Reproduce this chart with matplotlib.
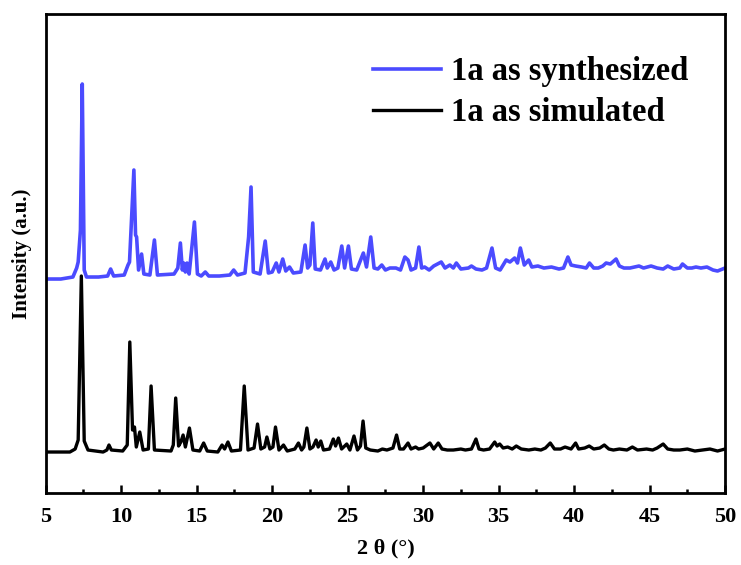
import numpy as np
import matplotlib
matplotlib.use("Agg")
import matplotlib.pyplot as plt
from matplotlib.ticker import MultipleLocator

plt.rcParams['font.family'] = ['Liberation Serif', 'DejaVu Serif']
plt.rcParams['font.weight'] = 'bold'

# PXRD patterns (2 theta in degrees, intensity in a.u., baseline ~0)
synth_2theta = [5.0, 6.0, 6.8, 7.05, 7.15, 7.3, 7.42, 7.55, 7.7, 8.5, 9.1, 9.3, 9.5, 10.2, 10.45,
                10.55, 10.75, 10.84, 10.95, 11.02, 11.15, 11.35, 11.5, 11.9, 12.2, 12.4, 13.5, 13.75,
                13.92, 14.05, 14.14, 14.25, 14.36, 14.5, 14.85, 15.05, 15.3, 15.57, 15.8, 16.5, 17.2,
                17.45, 17.7, 18.2, 18.44, 18.6, 18.75, 19.2, 19.54, 19.75, 20.0, 20.27, 20.45, 20.7,
                20.9, 21.15, 21.4, 21.9, 22.18, 22.35, 22.5, 22.69, 22.85, 23.2, 23.5, 23.65, 23.88,
                24.1, 24.35, 24.61, 24.8, 25.05, 25.25, 25.6, 26.04, 26.25, 26.53, 26.75, 27.0, 27.26,
                27.5, 27.8, 28.2, 28.5, 28.79, 29.0, 29.2, 29.5, 29.72, 29.9, 30.1, 30.4, 30.7, 31.2,
                31.45, 31.77, 32.0, 32.2, 32.5, 33.0, 33.2, 33.5, 33.9, 34.2, 34.56, 34.8, 35.1, 35.5,
                35.75, 36.06, 36.25, 36.44, 36.7, 36.99, 37.2, 37.6, 38.0, 38.5, 39.0, 39.3, 39.59,
                39.8, 40.1, 40.5, 40.8, 41.02, 41.3, 41.6, 41.9, 42.12, 42.4, 42.78, 43.0, 43.3, 43.7,
                44.0, 44.3, 44.6, 45.1, 45.5, 45.9, 46.2, 46.6, 47.0, 47.18, 47.5, 47.8, 48.07, 48.4,
                48.8, 49.2, 49.5, 50.0]
synth_int = [0, 0, 2, 11, 17, 49, 195, 9, 2, 2, 3, 10, 3, 4, 14,
             17, 79, 109, 44, 42, 9, 25, 5, 4, 39, 4, 5, 11,
             36, 9, 16, 7, 16, 5, 57, 5, 3, 7, 3, 3, 4,
             9, 4, 6, 42, 92, 7, 5, 38, 6, 7, 16, 7, 20,
             8, 12, 6, 7, 34, 11, 14, 56, 10, 9, 20, 11, 17,
             9, 11, 33, 11, 33, 10, 9, 26, 12, 42, 11, 10, 14,
             9, 11, 11, 9, 22, 19, 9, 11, 32, 11, 12, 9, 13, 17,
             11, 14, 11, 16, 10, 11, 13, 10, 9, 11, 31, 11, 9, 19,
             17, 21, 16, 31, 14, 19, 12, 13, 11, 12, 10, 11, 22,
             14, 13, 12, 11, 16, 11, 11, 13, 16, 15, 20, 13, 11, 11,
             12, 13, 11, 13, 11, 10, 13, 10, 11, 15, 11, 11, 12, 11,
             12, 9, 8, 11]

sim_2theta = [5.0, 6.6, 6.95, 7.15, 7.36, 7.55, 7.8, 8.8, 9.05, 9.19, 9.35, 10.1, 10.4, 10.57,
              10.75, 10.88, 11.0, 11.23, 11.45, 11.8, 11.98, 12.2, 13.3, 13.45, 13.61, 13.8, 13.95,
              14.1, 14.25, 14.52, 14.75, 15.2, 15.46, 15.7, 16.4, 16.68, 16.85, 17.07, 17.3, 17.9,
              18.15, 18.4, 18.8, 19.03, 19.25, 19.5, 19.65, 19.85, 20.05, 20.22, 20.45, 20.75, 21.0,
              21.5, 21.74, 21.95, 22.1, 22.3, 22.5, 22.7, 22.91, 23.05, 23.22, 23.4, 23.8, 24.05,
              24.2, 24.39, 24.6, 24.94, 25.15, 25.42, 25.65, 25.85, 26.02, 26.2, 26.5, 27.0, 27.3,
              27.6, 28.0, 28.24, 28.45, 28.7, 29.0, 29.2, 29.5, 29.7, 30.0, 30.45, 30.7, 31.0,
              31.25, 31.6, 32.0, 32.5, 32.8, 33.2, 33.5, 33.7, 34.0, 34.4, 34.74, 34.9, 35.07,
              35.3, 35.6, 35.9, 36.17, 36.5, 37.0, 37.4, 37.8, 38.1, 38.42, 38.7, 39.1, 39.4, 39.8,
              40.1, 40.3, 40.7, 41.0, 41.3, 41.7, 42.0, 42.3, 42.6, 43.0, 43.5, 43.86, 44.2, 44.8,
              45.2, 45.5, 45.9, 46.2, 46.6, 47.0, 47.5, 48.0, 48.5, 49.0, 49.5, 50.0]
sim_int = [0, 0, 3, 12, 176, 11, 2, 0, 2, 7, 2, 1, 7, 110,
           22, 25, 5, 20, 2, 3, 66, 2, 1, 7, 54, 6, 10,
           17, 5, 24, 2, 1, 9, 1, 0, 7, 3, 10, 1, 2,
           66, 2, 4, 28, 3, 5, 15, 3, 5, 25, 2, 7, 1,
           3, 9, 2, 5, 24, 3, 5, 12, 5, 11, 2, 3, 13,
           6, 14, 3, 8, 2, 16, 2, 6, 31, 4, 2, 1, 3,
           2, 4, 17, 3, 3, 9, 3, 5, 3, 4, 9, 3, 9,
           3, 2, 2, 3, 2, 3, 13, 3, 2, 3, 10, 6, 8,
           4, 5, 3, 6, 3, 2, 3, 2, 4, 9, 3, 3, 5, 3,
           9, 3, 4, 6, 3, 4, 7, 3, 2, 3, 2, 5, 2, 3,
           2, 4, 8, 3, 2, 2, 3, 1, 2, 3, 1, 3]

# vertical offsets used to stack the two patterns
synth_offset = 214
sim_offset = 41

fig = plt.figure(figsize=(7.41, 5.65), dpi=100)
ax = fig.add_axes([0.0617, 0.1274, 0.9168, 0.8478])

ax.plot(synth_2theta, np.array(synth_int) + synth_offset, color='#4B4BFF', lw=2.6,
        solid_joinstyle='round', label='1a as synthesized')
ax.plot(sim_2theta, np.array(sim_int) + sim_offset, color='black', lw=2.4,
        solid_joinstyle='round', label='1a as simulated')

ax.set_xlim(5, 50)
ax.set_ylim(0, 479)
ax.xaxis.set_major_locator(MultipleLocator(5))
ax.xaxis.set_minor_locator(MultipleLocator(2.5))
ax.set_yticks([])
ax.tick_params(axis='x', which='major', direction='in', length=6, width=1.8,
               labelsize=16, pad=10, top=False)
ax.tick_params(axis='x', which='minor', direction='in', length=3, width=1.8, top=False)
for lab in ax.get_xticklabels():
    lab.set_fontweight('bold')
for sp in ax.spines.values():
    sp.set_linewidth(2.0)

ax.set_xlabel('2 θ (°)', fontsize=16, fontweight='bold', labelpad=8)
ax.set_ylabel('Intensity (a.u.)', fontsize=15, fontweight='bold', labelpad=10)

leg = ax.legend(loc='upper left', bbox_to_anchor=(0.438, 0.973), frameon=False,
                prop={'size': 23.5, 'weight': 'bold'}, handlelength=2.1,
                handletextpad=0.3, labelspacing=0.3)

fig.savefig('out.png', dpi=100)
